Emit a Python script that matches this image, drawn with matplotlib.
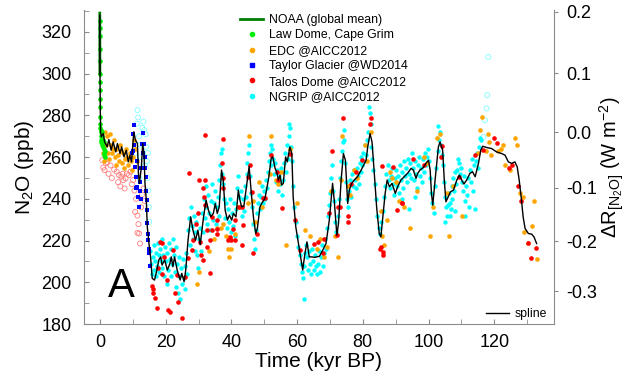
import numpy as np
import matplotlib.pyplot as plt
from matplotlib.ticker import MultipleLocator
from matplotlib.lines import Line2D

plt.rcParams['font.family'] = ['Liberation Sans', 'DejaVu Sans']
plt.rcParams['mathtext.fontset'] = 'custom'
plt.rcParams['mathtext.rm'] = 'Liberation Sans'
plt.rcParams['mathtext.it'] = 'Liberation Sans:italic'

# NOAA global mean (recent decades, age in kyr BP)
noaa_age = [-0.065, -0.03]
noaa_n2o = [329, 300]

# Law Dome, Cape Grim
lawdome = [(-0.05, 322), (0.0, 325), (0.0, 318), (0.0, 312), (0.0, 306), (0.01, 300),
           (0.02, 296), (0.03, 292), (0.05, 288), (0.07, 284), (0.1, 279), (0.12, 276),
           (0.15, 274), (0.2, 272), (0.25, 267), (0.3, 270), (0.35, 273), (0.45, 268),
           (0.55, 266), (0.6, 272), (0.7, 270), (0.85, 268), (1.0, 265), (1.1, 262),
           (1.2, 264), (1.3, 267), (1.35, 261), (1.5, 260), (1.6, 263)]

# EDC @AICC2012
edc = [(0.8, 262), (1.2, 258), (1.5, 272), (1.8, 266), (2.2, 270), (2.5, 262), (2.8, 259),
       (3.0, 271), (3.3, 266), (3.6, 262), (3.9, 264), (4.2, 268), (4.5, 260), (4.8, 256),
       (5.0, 264), (5.4, 261), (5.7, 258), (6.0, 266), (6.3, 263), (6.6, 257), (7.0, 262),
       (7.3, 255), (7.6, 259), (8.0, 264), (8.3, 260), (8.6, 256), (9.0, 262), (9.3, 258),
       (9.6, 254), (10.0, 260), (10.4, 268), (10.8, 264), (11.2, 258),
       (29.5, 199), (30.2, 205), (33.3, 215), (34.6, 221), (35.5, 226), (36.8, 226),
       (37.3, 228), (38.3, 222), (38.9, 216), (39.3, 212), (40.0, 216), (41.2, 223),
       (42.0, 236), (45.1, 238), (45.3, 270), (46.7, 239), (47.2, 229), (48.4, 248),
       (49.4, 236), (51.6, 252), (52.2, 270), (53.5, 249), (54.2, 247), (55.2, 253),
       (56.7, 218), (57.8, 264), (60.1, 238), (62.3, 225), (64.0, 222), (66.1, 216),
       (67.0, 221), (68.1, 212), (69.1, 217), (70.3, 244), (71.6, 222), (72.3, 212),
       (73.3, 249), (73.8, 270), (75.6, 246), (76.1, 242), (77.3, 254), (78.3, 250),
       (80.6, 266), (81.2, 258), (82.5, 272), (85.5, 234), (85.9, 222), (86.4, 218),
       (87.5, 230), (88.3, 253), (89.0, 250), (90.2, 248), (91.1, 239), (92.4, 236),
       (94.5, 226), (96.4, 244), (98.5, 260), (99.6, 257), (100.6, 222), (101.3, 236),
       (102.7, 269), (103.4, 271), (105.5, 243), (106.3, 222), (107.4, 246), (110.2, 232),
       (115.1, 262), (115.8, 273), (116.2, 279), (117.5, 263), (118.0, 271), (118.5, 267),
       (119.1, 261), (121.2, 263), (122.1, 264), (122.6, 266), (123.4, 256), (124.8, 254),
       (126.3, 269), (126.8, 266), (127.7, 243), (128.8, 241), (129.1, 224), (130.3, 219),
       (131.6, 227), (132.2, 239), (132.9, 211)]

# Taylor Glacier @WD2014
taylor = [(9.7, 262), (9.9, 263), (10.2, 271), (10.3, 275.3), (10.5, 266), (10.8, 255.3),
          (11.0, 245), (11.1, 250.5), (11.3, 258), (11.4, 245.8), (11.6, 241), (11.9, 236.2),
          (12.1, 248), (12.3, 244), (12.5, 240), (12.6, 255), (12.9, 266.5), (13.0, 262),
          (13.2, 271.6), (13.4, 266.5), (13.6, 260), (13.8, 255), (13.9, 250.6), (14.1, 244),
          (14.2, 239.4), (14.4, 234.6), (14.4, 228.2), (14.6, 223.4), (14.7, 220.2),
          (14.8, 213.9), (14.9, 216), (15.1, 208)]

# Talos Dome @AICC2012
talos = [(15.7, 198.2), (16.0, 197), (16.2, 194.7), (16.7, 192.3), (17.3, 187.5), (17.8, 207),
         (18.3, 219.4), (18.8, 204), (19.0, 218.7), (19.6, 212), (20.3, 201.1), (20.8, 186.7),
         (21.3, 185.7), (22.3, 215.4), (22.8, 194.7), (23.4, 203.5), (23.8, 190.7), (24.9, 183),
         (25.9, 202.7), (26.9, 211.5), (27.1, 252.5), (27.9, 215.4), (28.4, 220.2), (29.2, 228),
         (29.9, 233), (30.2, 249), (30.4, 219.4), (30.9, 213), (31.4, 245), (31.5, 210.7),
         (31.7, 241), (32.0, 270.5), (32.0, 249), (32.0, 237), (32.5, 225), (32.5, 217),
         (33.5, 204.3), (33.5, 220.2), (34.0, 231.4), (34.0, 225), (35.5, 229.8), (35.5, 223.4),
         (35.6, 225.8), (37.1, 257), (37.3, 268.6), (37.3, 250), (37.4, 245), (39.1, 220.2),
         (39.5, 221.8), (39.9, 220.2), (40.6, 225.8), (41.1, 229.8), (41.1, 220.2), (42.4, 236.2),
         (43.1, 236.2), (43.1, 217.8), (43.6, 227.4), (45.2, 250.6), (45.7, 256), (46.2, 243.4),
         (46.7, 213.9), (47.8, 223.4), (49.7, 240.2), (50.2, 240.2), (52.2, 260.9), (53.8, 252.9),
         (54.3, 249), (55.3, 235.4), (57.8, 261.7), (59.3, 229.8), (60.9, 215.4), (65.2, 218.6),
         (66.4, 219.4), (67.8, 214), (68.3, 221), (69.8, 233), (70.7, 262.9), (72.1, 222.6),
         (72.3, 236.2), (73.1, 236.2), (74.1, 278.5), (75.5, 232), (75.6, 229), (76.4, 246.9),
         (77.9, 253), (79.8, 258.5), (82.2, 276), (82.5, 278.5), (85.2, 215.8), (85.5, 217),
         (85.7, 255.8), (86.0, 214.6), (86.2, 212.9), (89.1, 255.3), (90.3, 234.6), (91.8, 238.1),
         (92.0, 237.8), (95.2, 259), (98.7, 256.2), (103.7, 260.1), (104.0, 265.2), (109.4, 250.6),
         (114.2, 260.9), (116.7, 263.3), (120.0, 269.2), (120.7, 266.8), (124.5, 255),
         (125.3, 256.1), (127.3, 246.1), (128.2, 238.9), (130.4, 219), (131.2, 211.8),
         (132.7, 216.7)]

# Talos Dome, open symbols (Holocene / deglaciation)
talos_open = [(0.7, 258.5), (1.0, 255), (1.4, 253.8), (1.8, 257), (2.2, 257.5), (2.6, 252),
              (3.2, 256), (3.6, 250), (4.3, 254), (5.1, 253), (5.5, 248), (5.8, 251.4),
              (6.2, 246), (6.5, 250.6), (6.9, 252), (7.1, 249), (7.5, 245), (7.8, 249.8),
              (8.2, 252), (8.8, 251.4), (9.3, 253), (9.7, 247), (10.1, 249), (10.5, 244),
              (10.7, 233.8), (11.0, 240), (11.4, 232), (11.4, 223.7), (11.7, 227.9),
              (11.9, 223.4), (12.2, 218.6), (12.5, 236), (12.8, 242), (13.3, 245), (13.6, 239)]

# NGRIP @AICC2012
ngrip = [(15.3, 215), (15.6, 209), (15.8, 204), (16.1, 212), (16.3, 206), (16.5, 218), (16.8, 210),
         (17.0, 203), (17.2, 214), (17.5, 208), (17.7, 219), (17.9, 213), (18.1, 205), (18.4, 216),
         (18.6, 210), (18.8, 221), (19.0, 207), (19.3, 213), (19.5, 203), (19.8, 217), (20.0, 210),
         (20.3, 199), (20.5, 214), (20.7, 206), (21.0, 219), (21.2, 211), (21.5, 203), (21.7, 216),
         (22.0, 209), (22.2, 221), (22.5, 213), (22.7, 205), (23.0, 217), (23.2, 198), (23.5, 209),
         (23.7, 195), (24.0, 212), (24.2, 203), (24.5, 192), (24.7, 207), (25.0, 199), (25.3, 211),
         (25.5, 202), (25.8, 197), (26.0, 208), (26.3, 214), (26.6, 204),
         (26.9, 225), (27.2, 231), (27.4, 218), (27.7, 236), (28.0, 227), (28.2, 221), (28.5, 232),
         (28.8, 215), (29.0, 224), (29.3, 229), (29.6, 213), (29.8, 207), (30.1, 221), (30.4, 226),
         (30.7, 215), (31.0, 233), (31.3, 224),
         (31.6, 240), (31.9, 231), (32.2, 246), (32.4, 236), (32.7, 228), (33.0, 242), (33.3, 233),
         (33.6, 225), (33.9, 239), (34.2, 247), (34.4, 230), (34.7, 238), (35.0, 244), (35.2, 228),
         (35.5, 236), (35.8, 241), (36.1, 249), (36.3, 232), (36.6, 256), (36.9, 262), (37.0, 264),
         (37.1, 252), (37.4, 247), (37.7, 240),
         (38.0, 231), (38.3, 238), (38.6, 226), (38.9, 235), (39.2, 229), (39.5, 240), (39.8, 224),
         (40.1, 233), (40.4, 227), (40.7, 238), (41.0, 222), (41.3, 235), (41.6, 245), (41.9, 251),
         (42.2, 241), (42.5, 236), (42.8, 244),
         (43.1, 232), (43.4, 240), (43.7, 234), (44.0, 246), (44.3, 241), (44.6, 252), (44.9, 257),
         (45.2, 262), (45.5, 266), (45.8, 251), (46.1, 243), (46.4, 236), (46.7, 228), (47.0, 221),
         (47.3, 216), (47.6, 225), (47.9, 233),
         (48.2, 238), (48.5, 242), (48.8, 235), (49.1, 241), (49.4, 246), (49.7, 238), (50.0, 244),
         (50.3, 240), (50.6, 249), (50.9, 245), (51.2, 253), (51.5, 258), (51.8, 262), (52.1, 256),
         (52.2, 266), (52.4, 264), (52.7, 259), (53.0, 252),
         (53.3, 257), (53.6, 248), (53.9, 254), (54.2, 244), (54.5, 251), (54.8, 247), (55.1, 255),
         (55.4, 242), (55.7, 249), (56.0, 257), (56.3, 262), (56.6, 253), (56.9, 266), (57.2, 259),
         (57.5, 270), (57.6, 276), (57.8, 274), (58.1, 265), (58.4, 258),
         (58.8, 246), (59.2, 236), (59.6, 229), (60.0, 222), (60.4, 217), (60.8, 213), (61.2, 209),
         (61.6, 205), (61.9, 202), (62.0, 192), (62.2, 208), (62.5, 214), (62.8, 218), (63.1, 212),
         (63.4, 206), (63.7, 215), (64.0, 209), (64.3, 204), (64.6, 216), (64.9, 210), (65.2, 206),
         (65.5, 213), (65.8, 208), (66.1, 204),
         (66.4, 209), (66.7, 215), (67.0, 205), (67.3, 212), (67.6, 218), (67.9, 208), (68.2, 214),
         (68.5, 221), (68.8, 216), (69.1, 226), (69.4, 232), (69.7, 237), (70.0, 243), (70.3, 250),
         (70.6, 256), (70.9, 244), (71.2, 239), (71.5, 229), (71.8, 224),
         (72.3, 232), (72.7, 240), (73.0, 250), (73.3, 258), (73.6, 263), (73.9, 267), (74.2, 273),
         (74.4, 268), (74.5, 257), (74.8, 248), (75.1, 240), (75.4, 236), (75.7, 244), (76.0, 249),
         (76.3, 241), (76.6, 252), (76.9, 246), (77.2, 254), (77.5, 249),
         (77.8, 245), (78.1, 255), (78.4, 251), (78.7, 247), (79.0, 257), (79.3, 253), (79.6, 260),
         (79.9, 256), (80.2, 262), (80.5, 258), (80.8, 266), (81.1, 261), (81.4, 268), (81.7, 272),
         (82.0, 284), (82.3, 281), (82.4, 276), (82.6, 265), (82.9, 259), (83.2, 254),
         (83.6, 247), (84.0, 240), (84.4, 232), (84.8, 226), (85.2, 223), (85.6, 229), (86.0, 234),
         (86.4, 241), (86.8, 246), (87.2, 252), (87.6, 256), (88.0, 249), (88.3, 245), (88.6, 251),
         (88.9, 255), (89.2, 247), (89.5, 242), (89.8, 250),
         (90.1, 254), (90.4, 246), (90.7, 251), (91.0, 243), (91.3, 256), (91.6, 249), (91.9, 253),
         (92.0, 240), (92.2, 245), (92.5, 258), (92.8, 251), (93.1, 255), (93.4, 248), (93.7, 259),
         (94.0, 252), (94.0, 235), (94.3, 257), (94.6, 250), (94.9, 262), (95.2, 255), (95.5, 249),
         (95.8, 258), (96.0, 241), (96.1, 252), (96.4, 245), (96.7, 256), (97.0, 260), (97.3, 251),
         (97.6, 255), (97.9, 248), (98.2, 259), (98.5, 253), (98.8, 262), (99.1, 256), (99.4, 260),
         (99.7, 264), (100.0, 258),
         (100.4, 250), (100.8, 243), (101.2, 238), (101.6, 233), (102.0, 246), (102.4, 255),
         (102.8, 263), (103.0, 275), (103.1, 268), (103.4, 272), (103.7, 266), (104.0, 261),
         (104.3, 256), (104.6, 248), (104.9, 241), (105.0, 229), (105.2, 236), (105.5, 232),
         (105.8, 237),
         (106.1, 243), (106.4, 238), (106.6, 232), (106.7, 235), (107.0, 246), (107.3, 240),
         (107.6, 250), (107.9, 244), (108.0, 234), (108.2, 253), (108.5, 247), (108.8, 254),
         (109.1, 259), (109.4, 257), (109.7, 252), (110.0, 255), (110.3, 248), (110.6, 244),
         (110.9, 251), (111.1, 232), (111.2, 239), (111.5, 246), (111.8, 242), (112.1, 250),
         (112.4, 236), (112.7, 254), (113.0, 248), (113.3, 259), (113.6, 244), (113.9, 256),
         (114.2, 235), (114.5, 258), (114.8, 262), (115.1, 255), (115.4, 265), (115.7, 269),
         (116.0, 268)]

# NGRIP, open symbols
ngrip_open = [(10.8, 262), (11.2, 276), (11.4, 282.5), (11.6, 279), (11.9, 270), (12.0, 250),
              (12.2, 266), (12.5, 260), (12.9, 274), (13.2, 277), (13.5, 273), (13.7, 256),
              (13.9, 271), (14.1, 265), (14.3, 258), (14.5, 250), (14.6, 262), (14.7, 244),
              (14.9, 236), (15.0, 229), (116.7, 269.7), (117.2, 277.7), (117.7, 283.3),
              (117.9, 289.7), (118.2, 308)]

# spline through the composite
spline = [(-0.06, 328), (0.0, 300), (0.1, 282), (0.2, 272), (0.4, 269.7), (1.0, 271.3),
          (1.4, 267.3), (2.2, 264.9), (2.7, 268.4), (3.4, 263.3), (4.0, 267.3), (4.8, 262.5),
          (5.3, 266.5), (6.1, 261.7), (6.6, 264.9), (7.3, 260.1), (8.0, 263.3), (8.6, 257.7),
          (9.1, 260.9), (9.6, 257.7), (10.3, 272.1), (10.8, 268.1), (11.4, 266.5), (11.7, 252.2),
          (12.0, 247.4), (12.6, 255.3), (13.0, 266.5), (13.4, 261.7), (13.7, 247.4),
          (14.1, 239.4), (14.4, 226.6), (14.9, 218.7), (15.4, 212.2), (15.9, 201.9),
          (16.6, 201.1), (17.2, 205.0), (17.9, 210.7), (18.5, 212.2), (18.9, 208.3),
          (19.7, 210.7), (20.5, 205.9), (21.3, 209.1), (21.7, 212.2), (22.2, 207.5),
          (22.7, 212.2), (23.5, 205.9), (24.4, 201.1), (24.9, 204.3), (25.6, 200.3),
          (26.1, 205.9), (26.8, 220.2), (27.6, 231.4), (28.3, 225.0), (29.1, 220.2),
          (29.8, 225.0), (30.5, 218), (31.5, 231), (32.3, 239.4), (33.0, 234.6), (33.7, 231.4),
          (34.5, 233.0), (35.1, 237.8), (35.7, 233.0), (36.3, 236.2), (37.0, 253.8),
          (37.5, 249.0), (38.1, 234.6), (38.8, 229.8), (39.4, 232.2), (40.1, 229.8),
          (40.6, 233.0), (41.4, 231.4), (42.1, 244.2), (42.6, 239.4), (43.1, 236.2),
          (43.8, 236.5), (44.7, 247.4), (45.4, 255.6), (45.9, 245.8), (46.7, 231.4),
          (47.4, 223.4), (47.9, 225.8), (48.7, 236.2), (49.2, 237.8), (50.2, 240.2),
          (50.7, 244.2), (51.4, 250.6), (52.1, 259.4), (52.6, 260.1), (53.3, 254.6),
          (53.8, 252.9), (54.3, 249.0), (54.8, 251.4), (55.3, 246.6), (55.8, 247.4),
          (56.5, 260.1), (57.0, 257.7), (57.8, 264.9), (58.4, 261.7), (58.8, 241.0),
          (59.6, 226.6), (60.4, 218.7), (61.2, 210.7), (61.7, 205.9), (62.4, 213.9),
          (63.0, 219.4), (63.7, 212.2), (64.4, 212.2), (65.4, 212.0), (66.8, 212.5),
          (67.8, 215.4), (68.8, 218.6), (69.8, 229.8), (70.8, 247.4), (71.3, 239.4),
          (72.1, 222.6), (72.6, 228.2), (73.4, 249.0), (74.1, 261.7), (74.7, 258.5),
          (75.4, 237.8), (75.9, 244.2), (76.6, 247.4), (77.4, 249.0), (78.4, 250.6),
          (79.5, 253.8), (80.5, 257.0), (81.0, 258.5), (81.5, 264.9), (82.2, 271.3),
          (82.8, 267.3), (83.5, 252.2), (84.2, 236.2), (85.0, 223.4), (85.5, 221.8),
          (86.0, 229.8), (86.8, 242.6), (87.4, 249.0), (88.1, 245.8), (88.9, 247.4),
          (89.9, 242.6), (90.6, 245.8), (91.6, 249.0), (92.6, 250.6), (93.6, 252.2),
          (94.7, 254.6), (95.4, 253.8), (96.2, 249.8), (96.7, 252.2), (97.4, 253.8),
          (98.4, 255.0), (99.2, 257.0), (100.0, 258.5), (100.5, 253.8), (100.9, 242.6),
          (101.3, 237.0), (102.0, 249.0), (103.0, 264.9), (103.5, 267.3), (104.3, 263.3),
          (104.8, 249.0), (105.3, 238.6), (106.0, 241.0), (106.7, 243.4), (107.6, 244.2),
          (108.6, 249.0), (109.4, 251.4), (110.1, 249.0), (110.8, 247.1), (111.6, 249.0),
          (112.6, 252.2), (113.4, 253.0), (114.2, 250.6), (115.2, 257.0), (115.9, 263.3),
          (116.5, 265.2), (117.7, 264.6), (119.2, 264.1), (120.7, 262.5), (122.3, 261.7),
          (123.3, 260.9), (124.3, 257.7), (125.3, 257.0), (126.3, 257.7), (127.0, 255.3),
          (127.6, 249.0), (128.3, 239.4), (128.8, 231.4), (129.4, 225.8), (130.4, 223.4),
          (131.4, 223.1), (132.1, 221.8), (132.9, 218.6)]

rf_ticks = [-0.3, -0.2, -0.1, 0.0, 0.1, 0.2]
rf_labels = ['-0.3', '-0.2', '-0.1', '0.0', '0.1', '0.2']
n2o_ref = 272.0


def n2o_to_rf(n):
    return 0.12 * (np.sqrt(np.maximum(n, 0)) - np.sqrt(n2o_ref))


def rf_to_n2o(r):
    return (np.sqrt(n2o_ref) + np.asarray(r) / 0.12) ** 2


def xy(pts):
    a = np.array(pts)
    return a[:, 0], a[:, 1]


grey = '#8c8c8c'
fig = plt.figure(figsize=(6.26, 3.76), dpi=100)
ax = fig.add_axes([0.134, 0.138, 0.751, 0.835])

x, y = xy(talos_open)
ax.scatter(x, y, s=13, facecolors='none', edgecolors='#ff7f7f', linewidths=0.6)
x, y = xy(ngrip_open)
ax.scatter(x, y, s=13, facecolors='none', edgecolors='#7fffff', linewidths=0.6)
x, y = xy(ngrip)
ax.scatter(x, y, s=10, color='#00ffff', lw=0)
x, y = xy(edc)
ax.scatter(x, y, s=11, color='#ffa500', lw=0)
x, y = xy(talos)
ax.scatter(x, y, s=11, color='#ff0000', lw=0)
x, y = xy(taylor)
ax.scatter(x, y, s=11, color='#0000ff', marker='s', lw=0)
x, y = xy(lawdome)
ax.scatter(x, y, s=11, color='#00ee00', lw=0)
ax.plot(noaa_age, noaa_n2o, color='#008000', lw=2)
x, y = xy(spline)
ax.plot(x, y, color='black', lw=1.0)

ax.set_xlim(-4.9, 138.2)
ax.set_ylim(180, 330.4)
ax.xaxis.set_major_locator(MultipleLocator(20))
ax.xaxis.set_minor_locator(MultipleLocator(10))
ax.yaxis.set_major_locator(MultipleLocator(20))
ax.yaxis.set_minor_locator(MultipleLocator(10))
ax.tick_params(which='both', direction='in', length=3.5, color=grey, labelsize=13)
ax.tick_params(axis='y', pad=9)
ax.tick_params(axis='x', pad=7)
ax.spines['top'].set_visible(False)
ax.spines['right'].set_visible(False)
for s in ['left', 'bottom']:
    ax.spines[s].set_color(grey)
ax.set_xlabel('Time (kyr BP)', fontsize=15, labelpad=1)
ax.set_ylabel('N$_2$O (ppb)', fontsize=15, labelpad=4)

sec = ax.secondary_yaxis('right', functions=(n2o_to_rf, rf_to_n2o))
sec.set_yticks(rf_ticks)
sec.set_yticklabels(rf_labels)
sec.tick_params(direction='out', length=3, color=grey, labelsize=13, pad=6)
sec.spines['right'].set_color(grey)
sec.set_ylabel(r'$\Delta$R$_{[\mathrm{N_2O}]}$ (W m$^{-2}$)', fontsize=14.5, labelpad=0)

ax.text(0.079, 0.121, 'A', transform=ax.transAxes, fontsize=29, ha='center', va='center')

handles = [Line2D([], [], color='#008000', lw=2),
           Line2D([], [], color='#00ee00', marker='o', ms=3, lw=0),
           Line2D([], [], color='#ffa500', marker='o', ms=3, lw=0),
           Line2D([], [], color='#0000ff', marker='s', ms=3, lw=0),
           Line2D([], [], color='#ff0000', marker='o', ms=3, lw=0),
           Line2D([], [], color='#00ffff', marker='o', ms=3, lw=0)]
labels = ['NOAA (global mean)', 'Law Dome, Cape Grim', 'EDC @AICC2012',
          'Taylor Glacier @WD2014', 'Talos Dome @AICC2012', 'NGRIP @AICC2012']
leg = fig.legend(handles, labels, loc='upper left', bbox_to_anchor=(240 / 626, 1 - 14 / 376),
                 frameon=False, fontsize=8.8, borderpad=0, borderaxespad=0,
                 handlelength=1.9, handletextpad=0.45, labelspacing=0.28)

leg2 = fig.legend([Line2D([], [], color='black', lw=1)], ['spline'], loc='center left',
                  bbox_to_anchor=(486 / 626, 1 - 314 / 376), frameon=False, fontsize=8.8,
                  borderpad=0, borderaxespad=0, handlelength=1.9, handletextpad=0.45)

fig.savefig('out.png', dpi=100)
